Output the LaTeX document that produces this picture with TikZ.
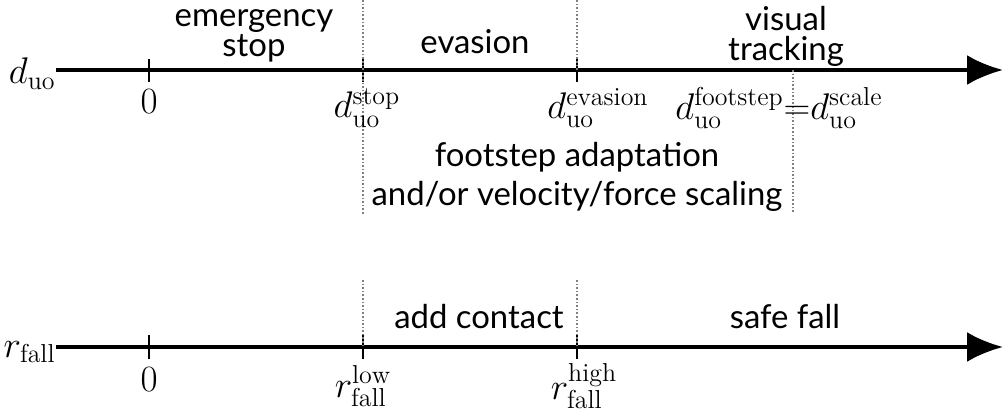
\documentclass[tikz,border=0pt]{standalone}
\usepackage{fix-cm}
\usepackage{fontspec}
\setsansfont{Lato}
\usetikzlibrary{arrows.meta}
\begin{document}
\begin{tikzpicture}[x=0.5bp,y=-0.5bp,
  numline/.style={line width=2bp,-{Latex[length=18bp,width=15bp]}},
  tickmark/.style={line width=1bp},
  border/.style={gray,line width=0.8bp,densely dotted},
  zone/.style={font=\sffamily\fontsize{16.5}{15}\selectfont,align=center,inner sep=0pt},
  mlabel/.style={font=\fontsize{18.6}{22}\selectfont,inner sep=0pt}]
  \useasboundingbox (0,0) rectangle (1003,412);
%%
  % Axis: d_uo
  \node[mlabel,anchor=east] (duo) at (56,74) {$d_{\mathrm{uo}}$};
  \coordinate (duoEnd) at (1003,70);
  \draw[numline] (duo.east |- duoEnd) -- (duoEnd);
  \coordinate (dzero) at (149,70);
  \coordinate (dstop) at (363,70);
  \coordinate (devas) at (577,70);
  \coordinate (dscale) at (793,70);
  \foreach \t in {dzero,dstop,devas}
    \draw[tickmark] (\t) ++(0,-11) -- ++(0,23);
  % Borders between the regimes
  \draw[border] (363,0) -- (363,215);
  \draw[border] (577,0) -- (devas);
  \draw[border] (dscale) -- (793,213);
  % Labels below the axis
  \node[mlabel] (dzeroLbl) at (149,102) {$0$};
  \node[mlabel] (dstopLbl) at (367,108) {$d_{\mathrm{uo}}^{\mathrm{stop}}$};
  \node[mlabel] (devasLbl) at (598,108) {$d_{\mathrm{uo}}^{\mathrm{evasion}}$};
  \node[mlabel] (dscaleLbl) at (779,108) {$d_{\mathrm{uo}}^{\mathrm{footstep}}{=}d_{\mathrm{uo}}^{\mathrm{scale}}$};
  % Regimes
  \node[zone] (emstop) at (254,36) {emergency\\stop};
  \node[zone] (evasion) at (475,42) {evasion};
  \node[zone] (tracking) at (786,36) {visual\\tracking};
  \node[zone] (footstep) at (577,157) {footstep adaptation};
  \node[zone] (scaling) at (577,196) {and/or velocity/force scaling};
%%
  % Axis: r_fall
  \node[mlabel,anchor=east] (rfall) at (56,352) {$r_{\mathrm{fall}}$};
  \coordinate (rfallEnd) at (1003,347);
  \draw[numline] (rfall.east |- rfallEnd) -- (rfallEnd);
  \coordinate (rzero) at (149,347);
  \coordinate (rlow) at (363,347);
  \coordinate (rhigh) at (577,347);
  \foreach \t in {rzero,rlow,rhigh}
    \draw[tickmark] (\t) ++(0,-12) -- ++(0,24);
  \draw[border] (363,280) -- (rlow);
  \draw[border] (577,280) -- (rhigh);
  \node[mlabel] (rzeroLbl) at (149,380) {$0$};
  \node[mlabel] (rlowLbl) at (363,386) {$r_{\mathrm{fall}}^{\mathrm{low}}$};
  \node[mlabel] (rhighLbl) at (584,386) {$r_{\mathrm{fall}}^{\mathrm{high}}$};
  \node[zone] (contact) at (479,317) {add contact};
  \node[zone] (safefall) at (785,317) {safe fall};
%
\end{tikzpicture}
\end{document}
